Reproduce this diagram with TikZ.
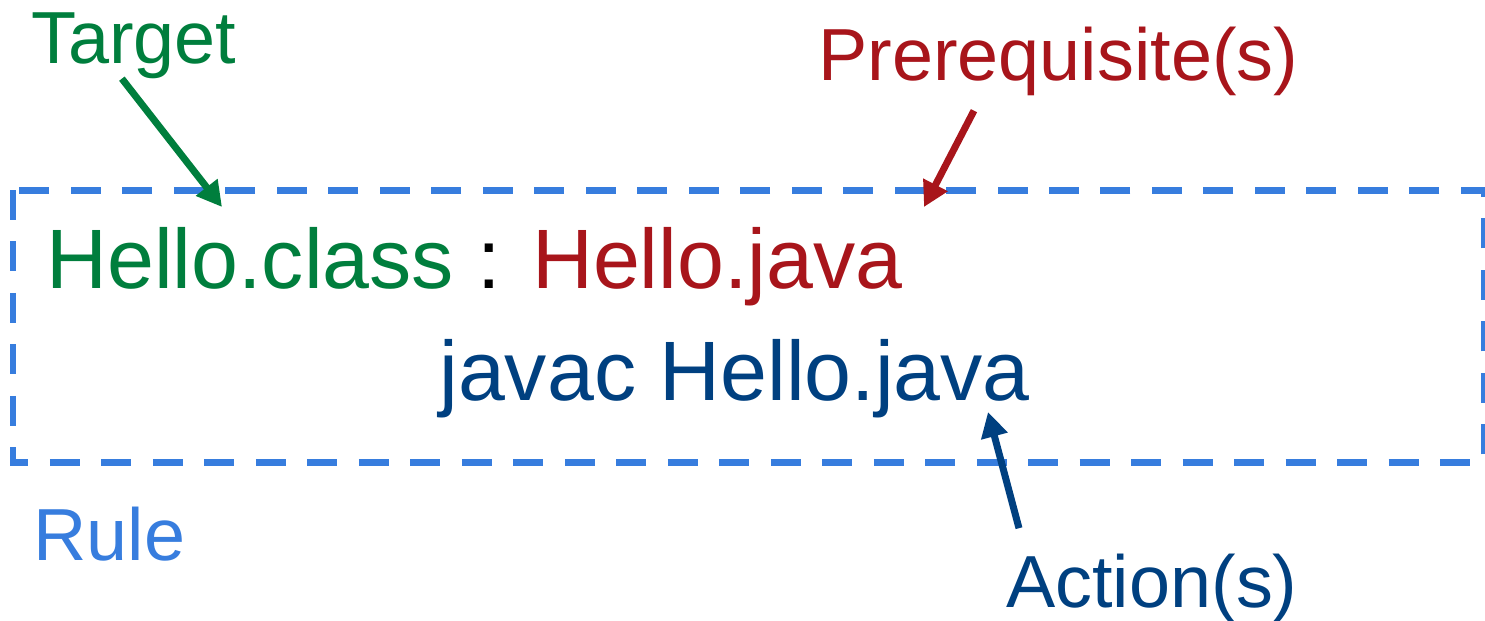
\documentclass[tikz,border=0pt]{standalone}
\usepackage{fontspec}
\setmainfont{Liberation Sans}
\usepackage{xcolor}
\usetikzlibrary{arrows.meta}

\definecolor{targetgreen}{RGB}{0,126,61}
\definecolor{prereqred}{RGB}{168,21,27}
\definecolor{actionblue}{RGB}{0,64,128}
\definecolor{ruleblue}{RGB}{55,125,222}

\begin{document}
\begin{tikzpicture}[x=0.02cm,y=-0.02cm]
  \tikzstyle{tag}=[inner sep=0pt,anchor=base west,font=\fontsize{42}{50}\selectfont]
  \tikzstyle{code}=[inner sep=0pt,anchor=base west,font=\fontsize{48}{58}\selectfont]
  \tikzstyle{pointer}=[line width=0.14cm,-{Triangle[length=0.5cm,width=0.52cm]}]
  \tikzstyle{rulebox}=[draw=ruleblue,line width=0.14cm,dash pattern=on 0.6cm off 0.43cm]

  \useasboundingbox (0,0) rectangle (1485,620);

  % the rule
  \draw[rulebox] (13,190) rectangle (1484,462);

  \node[code] (deps)   at (46,288)  {{\color{targetgreen}Hello.class} : {\color{prereqred}Hello.java}};
  \node[code,text=actionblue] (cmd) at (439,400) {javac Hello.java};

  \node[tag,text=targetgreen] (target) at (31,63)   {Target};
  \node[tag,text=prereqred]   (prereq) at (818,80)  {Prerequisite(s)};
  \node[tag,text=actionblue]  (action) at (1006,607) {Action(s)};
  \node[tag,text=ruleblue] (rule) at (33,560) {Rule};

  \coordinate (target_tip) at (222,207);
  \coordinate (prereq_tip) at (924,207);
  \coordinate (action_tip) at (988,412);

  \draw[pointer,draw=targetgreen,fill=targetgreen] ([xshift=-0.24cm]target.south) -- (target_tip);
  \draw[pointer,draw=prereqred,fill=prereqred] ([xshift=3.12cm,yshift=-0.3cm]prereq.south west) -- (prereq_tip);
  \draw[pointer,draw=actionblue,fill=actionblue] ([xshift=0.26cm,yshift=0.5cm]action.north west) -- (action_tip);
\end{tikzpicture}
\end{document}
